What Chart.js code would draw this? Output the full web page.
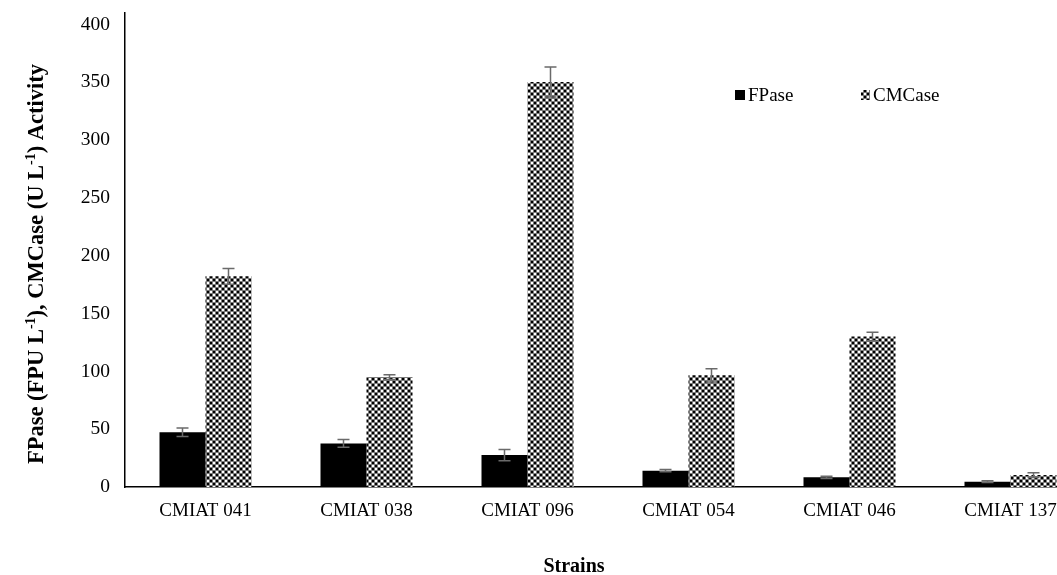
<!DOCTYPE html>
<html>
<head>
<meta charset="utf-8">
<script src="https://cdn.jsdelivr.net/npm/chart.js@4/dist/chart.umd.min.js"></script>
<style>
  html, body { margin: 0; padding: 0; background: #fff; overflow: hidden; }
  canvas { display: block; }
</style>
</head>
<body>
<canvas id="chart" width="1100" height="575"></canvas>
<script>
// Strains and measured enzyme activities
const categories = ['CMIAT 041', 'CMIAT 038', 'CMIAT 096', 'CMIAT 054', 'CMIAT 046', 'CMIAT 137'];
const fpase      = [47.4, 37.7, 27.6, 14.1, 8.4, 4.6];
const fpaseErr   = [3.7, 3.4, 4.9, 1.0, 1.0, 0.8];
const cmcase     = [182.2, 95.1, 350.3, 96.6, 130.2, 10.3];
const cmcaseErr  = [6.9, 2.1, 12.9, 5.7, 3.7, 2.0];
const yTicks     = [0, 50, 100, 150, 200, 250, 300, 350, 400];

const SERIF = '"Liberation Serif", "Times New Roman", serif';

// Checkered grid fill used for the CMCase bars
function makePattern() {
  const c = document.createElement('canvas');
  c.width = 6; c.height = 6;
  const g = c.getContext('2d');
  const K = '#000000', G = '#7a7a7a', W = '#ffffff';
  const tile = [
    [K, K, G, W, W, G],
    [K, K, G, W, W, G],
    [G, G, G, G, G, G],
    [W, W, G, K, K, G],
    [W, W, G, K, K, G],
    [G, G, G, G, G, G]
  ];
  for (let y = 0; y < 6; y++) for (let x = 0; x < 6; x++) {
    g.fillStyle = tile[y][x];
    g.fillRect(x, y, 1, 1);
  }
  return g.createPattern(c, 'repeat');
}
const cmPattern = makePattern();

// Symmetric error bars drawn on top of each bar
const errorBars = {
  id: 'errorBars',
  afterDatasetsDraw(chart) {
    const ctx = chart.ctx, ys = chart.scales.y;
    chart.data.datasets.forEach((ds, i) => {
      const meta = chart.getDatasetMeta(i);
      meta.data.forEach((bar, j) => {
        const v = ds.data[j], e = ds.errors[j];
        const top = ys.getPixelForValue(v + e), bot = ys.getPixelForValue(v - e);
        ctx.save();
        ctx.strokeStyle = '#6a6a6a';
        ctx.lineWidth = 1.5;
        ctx.beginPath();
        ctx.moveTo(bar.x, top); ctx.lineTo(bar.x, bot);
        ctx.moveTo(bar.x - 6, top); ctx.lineTo(bar.x + 6, top);
        ctx.moveTo(bar.x - 6, bot); ctx.lineTo(bar.x + 6, bot);
        ctx.stroke();
        ctx.restore();
      });
    });
  }
};

// Legend, axis titles (with superscripts)
const annotations = {
  id: 'annotations',
  afterDraw(chart) {
    const ctx = chart.ctx;
    ctx.save();
    // legend
    ctx.font = '19px ' + SERIF;
    ctx.textBaseline = 'middle';
    ctx.textAlign = 'left';
    ctx.fillStyle = '#000';
    ctx.fillRect(735, 90, 10, 10);
    ctx.fillText(chart.data.datasets[0].label, 748, 96);
    ctx.fillStyle = cmPattern;
    ctx.fillRect(861, 90, 9, 10);
    ctx.fillStyle = '#000';
    ctx.fillText(chart.data.datasets[1].label, 873, 96);

    // x title
    ctx.font = 'bold 20px ' + SERIF;
    ctx.textAlign = 'center';
    ctx.textBaseline = 'alphabetic';
    ctx.fillText('Strains', 574, 572);

    // y title with superscripts
    const parts = [
      ['FPase (FPU L', false], ['-1', true], ['), CMCase (U L', false], ['-1', true], [') Activity', false]
    ];
    const big = 'bold 22.5px ' + SERIF, small = 'bold 14px ' + SERIF;
    let total = 0;
    parts.forEach(p => { ctx.font = p[1] ? small : big; total += ctx.measureText(p[0]).width; });
    ctx.translate(43, 264);
    ctx.rotate(-Math.PI / 2);
    ctx.textAlign = 'left';
    let x = -total / 2;
    parts.forEach(p => {
      ctx.font = p[1] ? small : big;
      ctx.fillText(p[0], x, p[1] ? -8 : 0);
      x += ctx.measureText(p[0]).width;
    });
    ctx.restore();
  }
};

new Chart(document.getElementById('chart'), {
  type: 'bar',
  data: {
    labels: categories,
    datasets: [
      { label: 'FPase', data: fpase, errors: fpaseErr, backgroundColor: '#000', borderWidth: 0 },
      { label: 'CMCase', data: cmcase, errors: cmcaseErr, backgroundColor: cmPattern, borderWidth: 0 }
    ]
  },
  options: {
    responsive: false,
    devicePixelRatio: 1,
    animation: false,
    layout: { padding: { top: 13, right: 9, left: 0, bottom: 0 } },
    categoryPercentage: 0.5714,
    barPercentage: 1.0,
    plugins: { legend: { display: false }, tooltip: { enabled: false } },
    scales: {
      x: {
        grid: { display: false, drawTicks: false },
        border: { display: true, color: '#000', width: 1.5 },
        ticks: { color: '#000', font: { family: SERIF, size: 19 }, padding: 13, maxRotation: 0 },
        afterFit(s) { s.height = 88; s.paddingLeft = 0; s.paddingRight = 0; }
      },
      y: {
        min: 0, max: 410,
        grid: { display: false, drawTicks: false },
        border: { display: true, color: '#000', width: 1.5 },
        ticks: { color: '#000', font: { family: SERIF, size: 19.5 }, padding: 15 },
        afterBuildTicks(s) { s.ticks = yTicks.map(v => ({ value: v })); },
        afterFit(s) { s.width = 125; s.paddingTop = 0; s.paddingBottom = 0; }
      }
    }
  },
  plugins: [errorBars, annotations]
});
</script>
</body>
</html>
